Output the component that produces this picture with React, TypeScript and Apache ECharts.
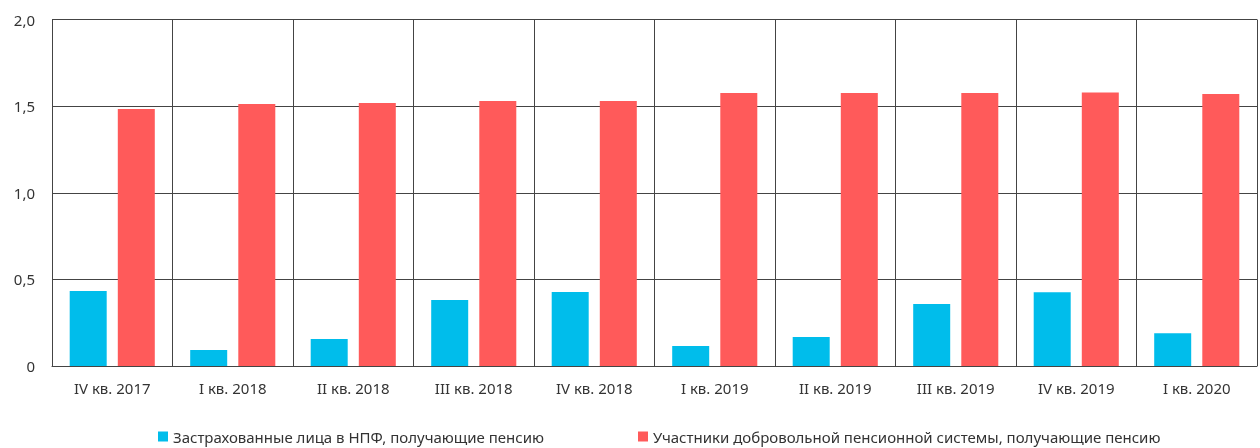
import React, { useEffect, useRef } from "react";
import * as echarts from "echarts";

const categories = [
  "IV кв. 2017",
  "I кв. 2018",
  "II кв. 2018",
  "III кв. 2018",
  "IV кв. 2018",
  "I кв. 2019",
  "II кв. 2019",
  "III кв. 2019",
  "IV кв. 2019",
  "I кв. 2020",
];
const insuredNPF = [0.433, 0.092, 0.156, 0.381, 0.427, 0.115, 0.167, 0.358, 0.425, 0.189];
const voluntaryParticipants = [1.483, 1.512, 1.518, 1.53, 1.53, 1.576, 1.576, 1.576, 1.578, 1.57];
const seriesNames = [
  "Застрахованные лица в НПФ, получающие пенсию",
  "Участники добровольной пенсионной системы, получающие пенсию",
];

export default function App() {
  const ref = useRef<HTMLDivElement>(null);
  useEffect(() => {
    if (!ref.current) return;
    const chart = echarts.init(ref.current, null, { renderer: "svg" });
    const font = "'Noto Sans', sans-serif";
    chart.setOption({
      animation: false,
      textStyle: { fontFamily: font },
      grid: { left: 52, right: 3, top: 19.5, bottom: 82 },
      legend: {
        bottom: -1,
        left: 153,
        itemWidth: 10,
        itemHeight: 10,
        itemGap: 94,
        icon: "rect",
        textStyle: { fontSize: 15, color: "#333", fontFamily: font },
        data: seriesNames,
      },
      xAxis: {
        type: "category",
        data: categories,
        axisLine: { show: true, lineStyle: { color: "#444", width: 1 } },
        axisTick: { show: false },
        splitLine: { show: true, lineStyle: { color: "#444", width: 1 } },
        axisLabel: { fontSize: 15, color: "#333", margin: 14, fontFamily: font },
      },
      yAxis: {
        type: "value",
        min: 0,
        max: 2,
        interval: 0.5,
        axisLine: { show: true, lineStyle: { color: "#444", width: 1 } },
        axisTick: { show: false },
        splitLine: { show: true, lineStyle: { color: "#444", width: 1 } },
        axisLabel: {
          fontSize: 15,
          color: "#333",
          margin: 17,
          fontFamily: font,
          formatter: (v: number) => (v === 0 ? "0" : v.toFixed(1).replace(".", ",")),
        },
      },
      series: [
        {
          name: seriesNames[0],
          type: "bar",
          data: insuredNPF,
          barWidth: 37,
          barGap: "30%",
          itemStyle: { color: "#00BDEB" },
        },
        {
          name: seriesNames[1],
          type: "bar",
          data: voluntaryParticipants,
          barWidth: 37,
          barGap: "30%",
          itemStyle: { color: "#FF5A5A" },
        },
      ],
    });
    return () => chart.dispose();
  }, []);
  return (
    <div
      ref={ref}
      style={{ position: "fixed", left: 0, top: 0, width: 1260, height: 448 }}
    />
  );
}
